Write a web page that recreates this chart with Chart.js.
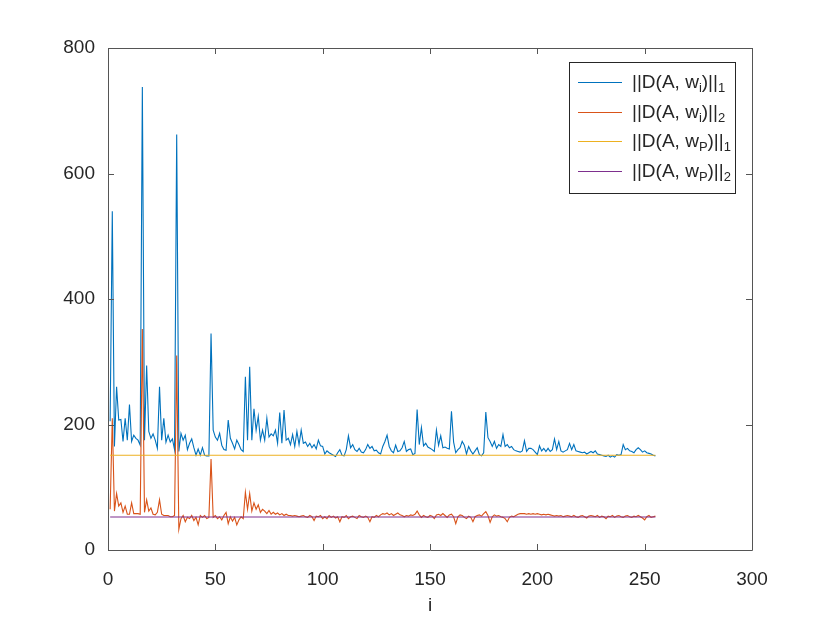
<!DOCTYPE html>
<html>
<head>
<meta charset="utf-8">
<script src="https://cdn.jsdelivr.net/npm/chart.js@4.4.0/dist/chart.umd.min.js"></script>
<style>
    html, body { margin: 0; padding: 0; background: #fff; }
    #wrap { position: relative; width: 831px; height: 618px; }
    #legend {
        position: absolute; left: 569px; top: 62px; width: 167px; height: 132px;
        font-family: "Liberation Sans", Arial, sans-serif; font-size: 19px; color: #262626;
    }
    #legend .txt { position: absolute; left: 63px; line-height: 20px; white-space: nowrap; }
    #legend sub { font-size: 13px; vertical-align: -4px; line-height: 0; }
</style>
</head>
<body>
<div id="wrap">
    <canvas id="normChart" width="831" height="618"></canvas>
    <div id="legend"></div>
</div>
<script>
// Datos (i = 1..255)
const normaW1 = [
    205, 540, 165, 260, 207, 208, 173, 210, 175, 232, 173, 183, 178, 175, 167, 738, 175, 294, 189, 178,
    185, 175, 162, 260, 175, 210, 172, 183, 172, 177, 160, 662, 157, 186, 175, 183, 160, 170, 177, 163,
    151, 161, 151, 163, 151, 150, 150, 345, 191, 180, 175, 186, 167, 160, 159, 207, 178, 170, 161, 175,
    168, 160, 157, 276, 175, 292, 175, 225, 191, 213, 175, 191, 175, 210, 180, 185, 182, 191, 170, 219,
    170, 223, 175, 178, 168, 184, 165, 189, 168, 191, 170, 172, 165, 170, 163, 168, 161, 175, 166, 165,
    153, 158, 155, 153, 151, 149, 155, 160, 151, 150, 160, 182, 163, 168, 160, 157, 162, 156, 155, 160,
    168, 162, 165, 158, 159, 155, 153, 165, 173, 183, 165, 158, 155, 167, 157, 158, 163, 173, 157, 160,
    161, 152, 154, 224, 168, 195, 166, 170, 164, 162, 160, 157, 191, 167, 182, 163, 164, 162, 161, 221,
    172, 155, 160, 163, 173, 167, 153, 165, 158, 153, 158, 163, 152, 150, 155, 220, 179, 173, 165, 173,
    162, 168, 165, 184, 165, 168, 163, 165, 160, 158, 157, 156, 158, 174, 157, 162, 162, 160, 156, 152,
    166, 158, 162, 157, 162, 157, 160, 177, 160, 173, 158, 156, 158, 160, 170, 160, 168, 158, 157, 156,
    155, 156, 153, 155, 157, 155, 158, 153, 152, 151, 150, 149, 151, 148, 150, 148, 152, 151, 152, 168,
    160, 162, 158, 157, 155, 160, 163, 160, 156, 158, 155, 154, 153, 151, 150
];
const normaW2 = [
    65, 210, 62, 90, 70, 75, 60, 70, 57, 57, 75, 58, 58, 58, 57, 352, 60, 80, 62, 67,
    57, 56, 60, 80, 57, 55, 55, 55, 53, 53, 55, 310, 33, 50, 55, 45, 52, 50, 55, 47,
    52, 40, 55, 52, 55, 50, 52, 145, 52, 55, 50, 53, 48, 55, 60, 42, 53, 46, 52, 40,
    48, 53, 50, 92, 65, 90, 62, 75, 65, 72, 60, 65, 62, 58, 63, 57, 60, 57, 59, 56,
    58, 55, 57, 55, 55, 54, 55, 54, 53, 54, 55, 53, 52, 55, 53, 47, 54, 53, 55, 50,
    53, 50, 55, 52, 54, 51, 53, 45, 53, 52, 55, 50, 53, 54, 52, 50, 55, 53, 52, 54,
    52, 45, 53, 52, 55, 53, 56, 58, 57, 59, 56, 58, 55, 57, 59, 56, 55, 53, 55, 54,
    56, 55, 57, 62, 56, 52, 55, 53, 52, 55, 54, 50, 56, 57, 55, 58, 55, 52, 56, 57,
    53, 42, 53, 56, 55, 52, 50, 54, 52, 45, 53, 55, 56, 54, 58, 61, 55, 44, 53, 56,
    54, 55, 53, 52, 50, 45, 52, 54, 53, 55, 57, 58, 58, 58, 57, 58, 57, 58, 57, 58,
    57, 56, 57, 56, 57, 56, 55, 54, 55, 54, 55, 53, 54, 55, 54, 53, 55, 53, 52, 54,
    55, 53, 51, 54, 55, 54, 53, 55, 52, 54, 53, 50, 54, 53, 55, 52, 54, 55, 53, 52,
    54, 55, 53, 52, 54, 53, 55, 53, 51, 48, 53, 55, 52, 53, 54
];
const normaP1 = 151;
const normaP2 = 52.5;

const indices = normaW1.map((v, k) => k + 1);
const ticksX = [0, 50, 100, 150, 200, 250, 300];
const ticksY = [0, 200, 400, 600, 800];

const etiquetas = [['i', '1'], ['i', '2'], ['P', '1'], ['P', '2']];
const colores = ['#0072BD', '#D95319', '#EDB120', '#7E2F8E'];

const series = [
    normaW1,
    normaW2,
    Array(indices.length).fill(normaP1),
    Array(indices.length).fill(normaP2)
];

// Leyenda: texto en HTML con subindices, caja y muestras en el canvas
const legendBox = { left: 569, top: 62, width: 166, height: 131 };
const filasY = [20, 50, 79, 109];
const legend = document.getElementById('legend');
etiquetas.forEach((et, k) => {
    const txt = document.createElement('div');
    txt.className = 'txt';
    txt.style.top = (filasY[k] - 10) + 'px';
    txt.innerHTML = '||D(A, w<sub>' + et[0] + '</sub>)||<sub>' + et[1] + '</sub>';
    legend.appendChild(txt);
});

// Marco y marcas hacia adentro (estilo MATLAB)
const marcoPlugin = {
    id: 'marco',
    afterDraw(chart) {
        const ctx = chart.ctx;
        const a = chart.chartArea;
        const sx = chart.scales.x, sy = chart.scales.y;
        const largo = 6;
        ctx.save();
        ctx.strokeStyle = '#555555';
        ctx.lineWidth = 1;
        ctx.beginPath();
        ctx.rect(Math.round(a.left) + 0.5, Math.round(a.top) + 0.5,
            Math.round(a.right - a.left), Math.round(a.bottom - a.top));
        ticksX.forEach(t => {
            const px = Math.round(sx.getPixelForValue(t)) + 0.5;
            ctx.moveTo(px, a.bottom); ctx.lineTo(px, a.bottom - largo);
            ctx.moveTo(px, a.top); ctx.lineTo(px, a.top + largo);
        });
        ticksY.forEach(t => {
            const py = Math.round(sy.getPixelForValue(t)) + 0.5;
            ctx.moveTo(a.left, py); ctx.lineTo(a.left + largo, py);
            ctx.moveTo(a.right, py); ctx.lineTo(a.right - largo, py);
        });
        ctx.stroke();

        // caja de la leyenda
        const b = legendBox;
        ctx.fillStyle = '#fff';
        ctx.fillRect(b.left, b.top, b.width, b.height);
        ctx.strokeStyle = '#262626';
        ctx.strokeRect(b.left + 0.5, b.top + 0.5, b.width, b.height);
        colores.forEach((c, k) => {
            ctx.strokeStyle = c;
            ctx.beginPath();
            ctx.moveTo(b.left + 9, b.top + filasY[k] + 0.5);
            ctx.lineTo(b.left + 53, b.top + filasY[k] + 0.5);
            ctx.stroke();
        });
        ctx.restore();
    }
};

const fuente = { family: '"Liberation Sans", Arial, sans-serif', size: 19 };

new Chart(document.getElementById('normChart').getContext('2d'), {
    type: 'line',
    data: {
        datasets: series.map((s, k) => ({
            label: etiquetas[k].join(''),
            data: s.map((v, j) => ({ x: indices[j], y: v })),
            borderColor: colores[k],
            borderWidth: 1.1,
            pointRadius: 0,
            tension: 0,
            fill: false,
            order: 3 - k
        }))
    },
    options: {
        responsive: false,
        animation: false,
        devicePixelRatio: 1,
        layout: { padding: { left: 0, top: 48, right: 79, bottom: 0 } },
        plugins: { legend: { display: false }, tooltip: { enabled: false } },
        scales: {
            x: {
                type: 'linear',
                min: 0, max: 300,
                afterBuildTicks: s => { s.ticks = ticksX.map(v => ({ value: v })); },
                afterFit: s => { s.height = 68; },
                grid: { display: false, drawTicks: false },
                border: { display: false },
                ticks: { color: '#262626', font: fuente, padding: 18, maxRotation: 0 },
                title: { display: true, text: 'i', color: '#262626', font: { family: fuente.family, size: 19 }, padding: { top: 0, bottom: 1 } }
            },
            y: {
                type: 'linear',
                min: 0, max: 800,
                afterBuildTicks: s => { s.ticks = ticksY.map(v => ({ value: v })); },
                afterFit: s => { s.width = 108; },
                grid: { display: false, drawTicks: false },
                border: { display: false },
                ticks: { color: '#262626', font: fuente, padding: 13 }
            }
        }
    },
    plugins: [marcoPlugin]
});
</script>
</body>
</html>
